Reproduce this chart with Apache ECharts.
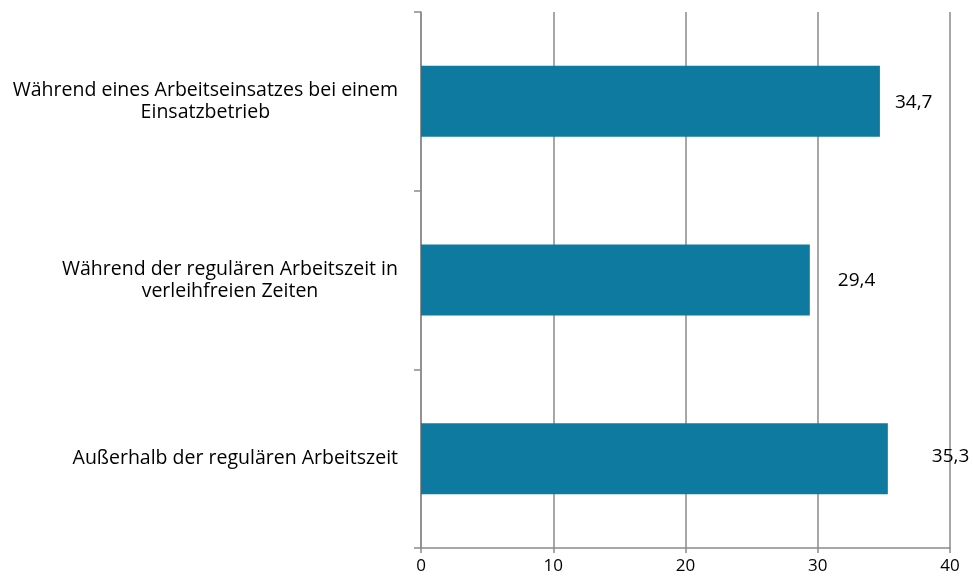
<!DOCTYPE html>
<html><head><meta charset="utf-8">
<script src="https://cdn.jsdelivr.net/npm/echarts@6/dist/echarts.min.js"></script>
<style>html,body{margin:0;padding:0;background:#fff}#c{width:973px;height:579px}</style>
</head><body><div id="c"></div>
<script>
const categories = [
  "Während eines Arbeitseinsatzes bei einem\nEinsatzbetrieb",
  "Während der regulären Arbeitszeit in\nverleihfreien Zeiten",
  "Außerhalb der regulären Arbeitszeit"
];
const values = [34.7, 29.4, 35.3];
const xTicks = [0, 10, 20, 30, 40];
// label placement (styling only)
const labelOffsets = [[1, 1], [14, 1], [30, -2]];

const FONT = "'Open Sans', sans-serif";
const chart = echarts.init(document.getElementById('c'));
chart.setOption({
  animation: false,
  grid: {left: 421, right: 23, top: 12, bottom: 31, containLabel: false},
  xAxis: {
    type: 'value', min: xTicks[0], max: xTicks[xTicks.length - 1], interval: 10,
    axisLine: {show: true, lineStyle: {color: '#8a8a8a', width: 1.5}},
    axisTick: {show: true, length: 5, lineStyle: {color: '#8a8a8a', width: 1.5}},
    splitLine: {show: true, lineStyle: {color: '#8a8a8a', width: 1.5}},
    axisLabel: {color: '#000', fontFamily: FONT, fontSize: 17, margin: 10}
  },
  yAxis: {
    type: 'category', data: categories, inverse: true,
    axisLine: {show: true, lineStyle: {color: '#8a8a8a', width: 1.5}},
    axisTick: {show: true, length: 7, lineStyle: {color: '#8a8a8a', width: 1.5}},
    axisLabel: {
      margin: 23, align: 'right', color: '#000', fontFamily: FONT, fontSize: 19.5, lineHeight: 22,
      formatter: v => v.split('\n').map(s => '{a|' + s + '}').join('\n'),
      rich: {a: {align: 'center', fontFamily: FONT, fontSize: 19.5, lineHeight: 22, color: '#000'}}
    }
  },
  series: [{
    type: 'bar', barWidth: 71,
    itemStyle: {color: '#0E7AA0'},
    data: values.map((v, i) => ({
      value: v,
      label: {offset: labelOffsets[i]}
    })),
    label: {
      show: true, position: 'right', distance: 14, color: '#000',
      fontFamily: FONT, fontSize: 19,
      formatter: p => String(p.value).replace('.', ',')
    }
  }]
});
</script></body></html>
